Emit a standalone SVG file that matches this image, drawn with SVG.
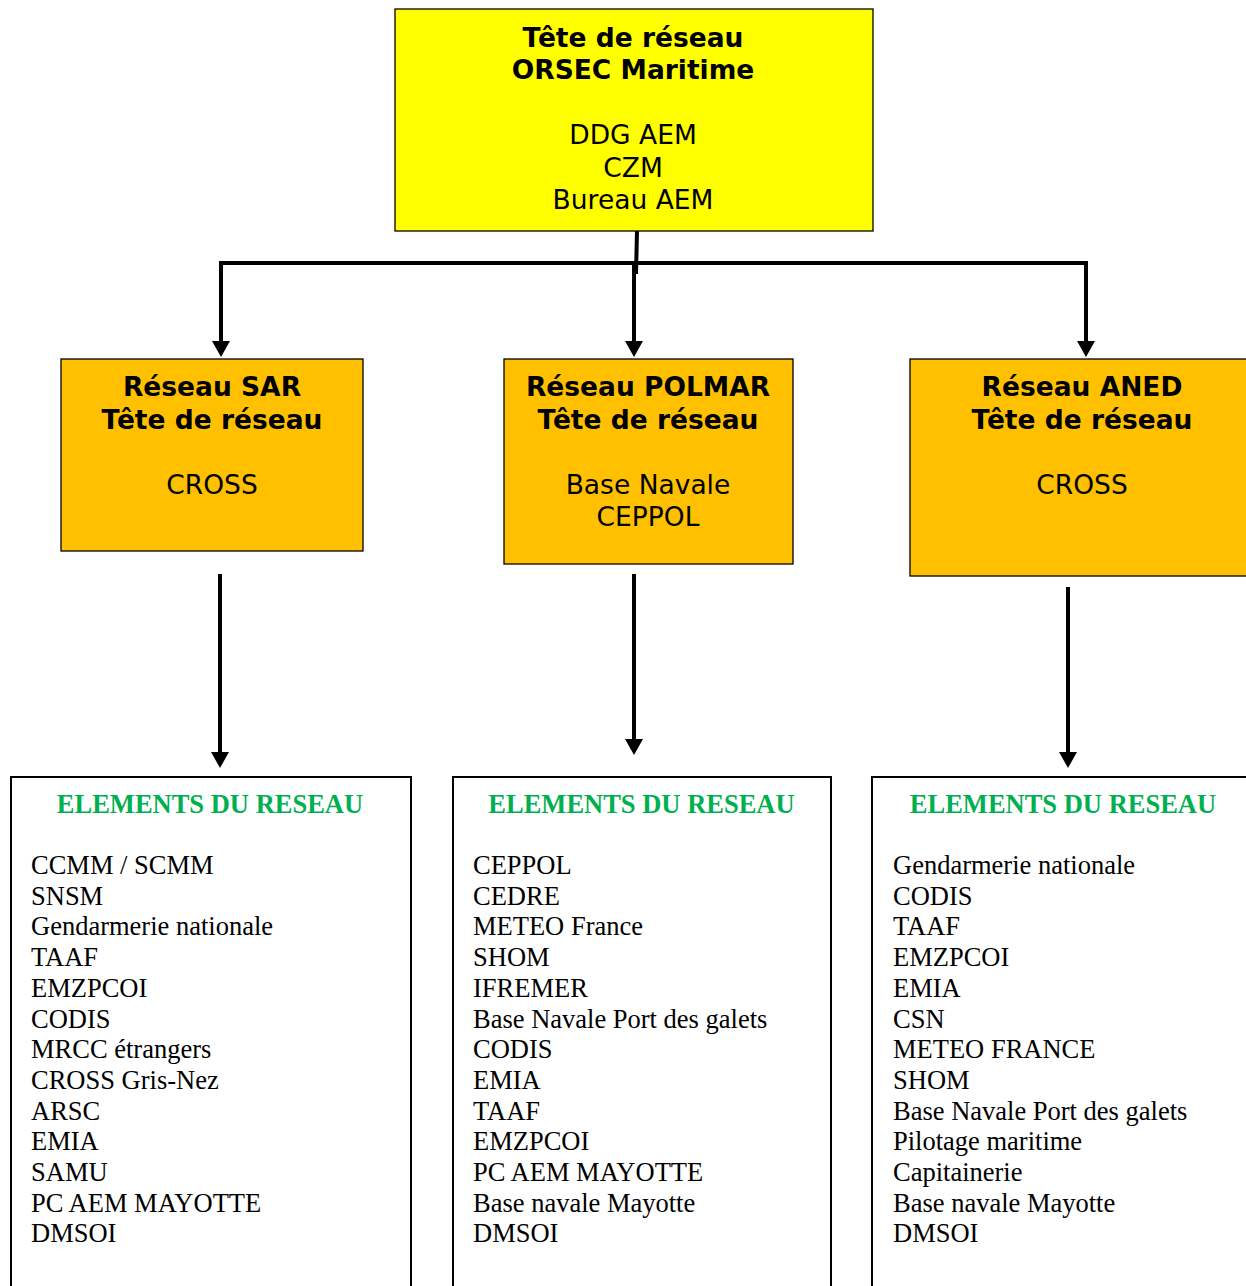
<svg xmlns="http://www.w3.org/2000/svg" width="1246" height="1286" viewBox="0 0 1246 1286">
<style>
.box{stroke:#000;stroke-width:1.3}
.top{fill:#FFFF00}
.mid{fill:#FFC000}
.list{fill:#fff;stroke:#000;stroke-width:2}
.hb{font-family:"DejaVu Sans",Verdana,sans-serif;font-weight:bold;font-size:26.5px;fill:#000;text-anchor:middle}
.hr{font-family:"DejaVu Sans",Verdana,sans-serif;font-size:26.5px;fill:#000;text-anchor:middle}
.gh{font-family:"Liberation Serif","Times New Roman",serif;font-weight:bold;font-size:26.5px;fill:#00B050;text-anchor:middle}
.it{font-family:"Liberation Serif","Times New Roman",serif;font-size:26.5px;fill:#000}
.con{stroke:#000;stroke-width:4;fill:none}
</style>
<defs>
<marker id="ah" viewBox="0 0 16 18" markerUnits="userSpaceOnUse" markerWidth="16" markerHeight="18" refX="2" refY="9" orient="auto">
<path d="M0,0 L16,9 L0,18 z" fill="#000"/>
</marker>
</defs>
<g id="connectors">
<line class="con" x1="637" y1="231" x2="636" y2="274"/>
<line class="con" x1="219" y1="263" x2="1088" y2="263" stroke-width="5"/>
<line class="con" x1="221" y1="261" x2="221" y2="343" marker-end="url(#ah)"/>
<line class="con" x1="634" y1="261" x2="634" y2="343" marker-end="url(#ah)"/>
<line class="con" x1="1086" y1="261" x2="1086" y2="343" marker-end="url(#ah)"/>
<line class="con" x1="220" y1="574" x2="220" y2="754" marker-end="url(#ah)"/>
<line class="con" x1="634" y1="574" x2="634" y2="741" marker-end="url(#ah)"/>
<line class="con" x1="1068" y1="587" x2="1068" y2="754" marker-end="url(#ah)"/>
</g>
<g id="node-orsec">
<rect class="box top" x="395" y="9" width="478" height="222"/>
<text class="hb" x="633" y="47">Tête de réseau</text>
<text class="hb" x="633" y="79">ORSEC Maritime</text>
<text class="hr" x="633" y="144">DDG AEM</text>
<text class="hr" x="633" y="177">CZM</text>
<text class="hr" x="633" y="209">Bureau AEM</text>
</g>
<g id="node-sar">
<rect class="box mid" x="61" y="359" width="302" height="192"/>
<text class="hb" x="212" y="396">Réseau SAR</text>
<text class="hb" x="212" y="429">Tête de réseau</text>
<text class="hr" x="212" y="494">CROSS</text>
</g>
<g id="node-polmar">
<rect class="box mid" x="504" y="359" width="289" height="205"/>
<text class="hb" x="648" y="396">Réseau POLMAR</text>
<text class="hb" x="648" y="429">Tête de réseau</text>
<text class="hr" x="648" y="494">Base Navale</text>
<text class="hr" x="648" y="526">CEPPOL</text>
</g>
<g id="node-aned">
<rect class="box mid" x="910" y="359" width="350" height="217"/>
<text class="hb" x="1082" y="396">Réseau ANED</text>
<text class="hb" x="1082" y="429">Tête de réseau</text>
<text class="hr" x="1082" y="494">CROSS</text>
</g>
<g id="node-elements-sar">
<rect class="list" x="11" y="777" width="400" height="530"/>
<text class="gh" x="210" y="813">ELEMENTS DU RESEAU</text>
<text class="it" x="31" y="874">CCMM / SCMM</text>
<text class="it" x="31" y="904.7">SNSM</text>
<text class="it" x="31" y="935.4">Gendarmerie nationale</text>
<text class="it" x="31" y="966.1">TAAF</text>
<text class="it" x="31" y="996.8">EMZPCOI</text>
<text class="it" x="31" y="1027.5">CODIS</text>
<text class="it" x="31" y="1058.2">MRCC étrangers</text>
<text class="it" x="31" y="1088.9">CROSS Gris-Nez</text>
<text class="it" x="31" y="1119.6">ARSC</text>
<text class="it" x="31" y="1150.3">EMIA</text>
<text class="it" x="31" y="1181">SAMU</text>
<text class="it" x="31" y="1211.7">PC AEM MAYOTTE</text>
<text class="it" x="31" y="1242.4">DMSOI</text>
</g>
<g id="node-elements-polmar">
<rect class="list" x="453" y="777" width="378" height="530"/>
<text class="gh" x="641.5" y="813">ELEMENTS DU RESEAU</text>
<text class="it" x="473" y="874">CEPPOL</text>
<text class="it" x="473" y="904.7">CEDRE</text>
<text class="it" x="473" y="935.4">METEO France</text>
<text class="it" x="473" y="966.1">SHOM</text>
<text class="it" x="473" y="996.8">IFREMER</text>
<text class="it" x="473" y="1027.5">Base Navale Port des galets</text>
<text class="it" x="473" y="1058.2">CODIS</text>
<text class="it" x="473" y="1088.9">EMIA</text>
<text class="it" x="473" y="1119.6">TAAF</text>
<text class="it" x="473" y="1150.3">EMZPCOI</text>
<text class="it" x="473" y="1181">PC AEM MAYOTTE</text>
<text class="it" x="473" y="1211.7">Base navale Mayotte</text>
<text class="it" x="473" y="1242.4">DMSOI</text>
</g>
<g id="node-elements-aned">
<rect class="list" x="872" y="777" width="400" height="530"/>
<text class="gh" x="1063" y="813">ELEMENTS DU RESEAU</text>
<text class="it" x="893" y="874">Gendarmerie nationale</text>
<text class="it" x="893" y="904.7">CODIS</text>
<text class="it" x="893" y="935.4">TAAF</text>
<text class="it" x="893" y="966.1">EMZPCOI</text>
<text class="it" x="893" y="996.8">EMIA</text>
<text class="it" x="893" y="1027.5">CSN</text>
<text class="it" x="893" y="1058.2">METEO FRANCE</text>
<text class="it" x="893" y="1088.9">SHOM</text>
<text class="it" x="893" y="1119.6">Base Navale Port des galets</text>
<text class="it" x="893" y="1150.3">Pilotage maritime</text>
<text class="it" x="893" y="1181">Capitainerie</text>
<text class="it" x="893" y="1211.7">Base navale Mayotte</text>
<text class="it" x="893" y="1242.4">DMSOI</text>
</g>
</svg>
